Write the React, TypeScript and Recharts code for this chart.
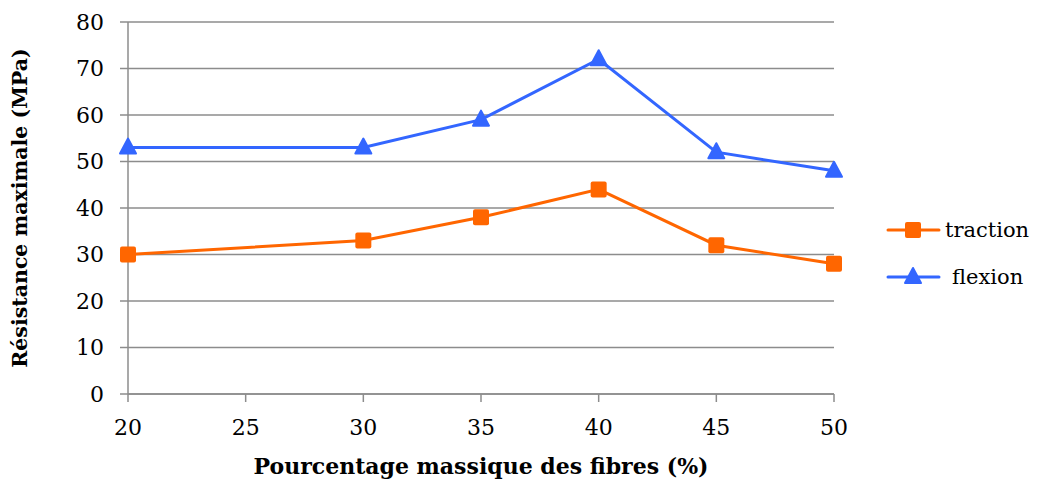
import React from "react";
import { LineChart, Line, XAxis, YAxis, CartesianGrid, Label } from "recharts";

const fibres = [20, 30, 35, 40, 45, 50];
const traction = [30, 33, 38, 44, 32, 28];
const flexion = [53, 53, 59, 72, 52, 48];
const xTicks = [20, 25, 30, 35, 40, 45, 50];
const yTicks = [0, 10, 20, 30, 40, 50, 60, 70, 80];

const ORANGE = "#ff6600";
const BLUE = "#3366ff";
const GRID = "#8c8c8c";
const FONT = "'DejaVu Serif', serif";

const data = fibres.map((f, i) => ({ fibres: f, traction: traction[i], flexion: flexion[i] }));

const Square = (props: any) => {
  const { cx, cy, index } = props;
  return <rect key={`sq-${index}`} x={cx - 8} y={cy - 8} width={16} height={16} rx={2} fill={ORANGE} />;
};

const Triangle = (props: any) => {
  const { cx, cy, index } = props;
  return (
    <path
      key={`tr-${index}`}
      d={`M${cx},${cy - 9} L${cx + 8},${cy + 6} L${cx - 8},${cy + 6} Z`}
      fill={BLUE}
      stroke={BLUE}
      strokeLinejoin="round"
      strokeWidth={2}
    />
  );
};

function LegendBox() {
  const items = [
    { name: "traction", color: ORANGE, shape: "square" },
    { name: "flexion", color: BLUE, shape: "triangle" },
  ];
  return (
    <div style={{ position: "absolute", left: 886, top: 206, fontFamily: FONT, fontSize: 21, color: "#000" }}>
      {items.map((it) => (
        <div key={it.name} style={{ display: "flex", alignItems: "center", height: 47 }}>
          <svg width={58} height={24}>
            <line x1={2} y1={12} x2={53} y2={12} stroke={it.color} strokeWidth={3} strokeLinecap="round" />
            {it.shape === "square" ? (
              <rect x={19} y={4} width={16} height={16} rx={2} fill={it.color} />
            ) : (
              <path d="M27,3 L35,18 L19,18 Z" fill={it.color} stroke={it.color} strokeWidth={2} strokeLinejoin="round" />
            )}
          </svg>
          <span style={{ marginLeft: it.shape === "square" ? 1 : 8 }}>{it.name}</span>
        </div>
      ))}
    </div>
  );
}

export default function App() {
  return (
    <div style={{ position: "absolute", left: 0, top: 0, width: 1041, height: 481, background: "#fff" }}>
      <LineChart width={1041} height={481} data={data} margin={{ top: 22, right: 207, left: 58, bottom: 47 }}>
        <CartesianGrid vertical={false} stroke={GRID} strokeWidth={1.5} />
        <XAxis
          dataKey="fibres"
          type="number"
          domain={[20, 50]}
          ticks={xTicks}
          interval={0}
          stroke={GRID}
          strokeWidth={1.5}
          tickSize={8}
          tickMargin={17}
          height={40}
          tick={{ fill: "#000", fontSize: 22, fontFamily: FONT }}
        >
          <Label
            content={() => (
              <text x={481} y={474} textAnchor="middle" fontFamily={FONT} fontSize={22} fontWeight="bold" fill="#000">
                Pourcentage massique des fibres (%)
              </text>
            )}
          />
        </XAxis>
        <YAxis
          type="number"
          domain={[0, 80]}
          ticks={yTicks}
          interval={0}
          stroke={GRID}
          strokeWidth={1.5}
          tickSize={8}
          tickMargin={16}
          width={70}
          tick={{ fill: "#000", fontSize: 22, fontFamily: FONT }}
        >
          <Label
            content={() => (
              <text
                x={27}
                y={208}
                textAnchor="middle"
                transform="rotate(-90 27 208)"
                fontFamily={FONT}
                fontSize={20.5}
                fontWeight="bold"
                fill="#000"
              >
                Résistance maximale (MPa)
              </text>
            )}
          />
        </YAxis>
        <Line
          dataKey="traction"
          name="traction"
          stroke={ORANGE}
          strokeWidth={3}
          dot={Square}
          activeDot={false}
          isAnimationActive={false}
        />
        <Line
          dataKey="flexion"
          name="flexion"
          stroke={BLUE}
          strokeWidth={3}
          dot={Triangle}
          activeDot={false}
          isAnimationActive={false}
        />
      </LineChart>
      <LegendBox />
    </div>
  );
}
